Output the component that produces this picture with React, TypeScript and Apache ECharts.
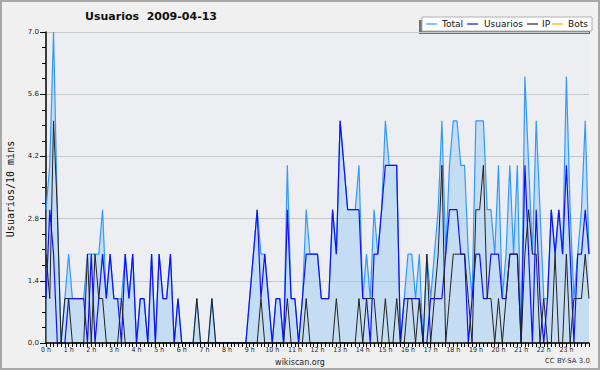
import React, { useEffect, useRef } from "react";
import * as echarts from "echarts";

// 10-minute bins over 24 h (0 h … 24 h), 145 points
const hourLabels: string[] = Array.from({ length: 25 }, (_, h) => `${h} h`);
const categories: string[] = Array.from({ length: 145 }, (_, i) => hourLabels[Math.floor(i / 6)]);

const total: number[] = [
  3, 4, 7, 3, 0, 1,
  2, 1, 1, 1, 1, 2,
  2, 2, 2, 3, 1, 2,
  1, 1, 1, 2, 1, 2,
  0, 1, 1, 0, 2, 0,
  2, 1, 1, 2, 0, 1,
  0, 0, 0, 0, 1, 0,
  0, 0, 1, 0, 0, 0,
  0, 0, 0, 0, 0, 0,
  1, 2, 3, 2, 2, 1,
  0, 1, 1, 0, 4, 1,
  1, 0, 1, 3, 2, 2,
  2, 1, 1, 1, 3, 2,
  5, 4, 3, 3, 3, 4,
  1, 2, 1, 3, 2, 3,
  5, 4, 4, 4, 0, 1,
  2, 2, 1, 2, 0, 2,
  1, 2, 3, 5, 2, 4,
  5, 5, 4, 4, 2, 1,
  5, 5, 5, 3, 3, 2,
  4, 1, 2, 4, 2, 4,
  0, 6, 4, 2, 5, 3,
  1, 1, 3, 2, 3, 2,
  6, 3, 1, 2, 3, 5,
  2,
];

const usuarios: number[] = [
  1, 3, 2, 0, 0, 0,
  1, 1, 1, 1, 1, 0,
  2, 0, 1, 2, 1, 2,
  1, 1, 0, 2, 1, 2,
  0, 1, 1, 0, 2, 0,
  2, 1, 1, 2, 0, 1,
  0, 0, 0, 0, 0, 0,
  0, 0, 0, 0, 0, 0,
  0, 0, 0, 0, 0, 0,
  1, 2, 3, 1, 2, 1,
  0, 1, 1, 0, 3, 1,
  1, 0, 1, 2, 2, 2,
  2, 1, 1, 1, 3, 2,
  5, 4, 3, 3, 3, 3,
  1, 1, 0, 2, 2, 3,
  4, 4, 4, 4, 0, 1,
  1, 1, 1, 1, 0, 0,
  1, 1, 1, 1, 2, 3,
  3, 3, 2, 2, 0, 1,
  2, 2, 1, 1, 2, 2,
  2, 1, 1, 2, 2, 2,
  0, 4, 2, 0, 3, 1,
  0, 1, 3, 2, 3, 2,
  4, 2, 0, 2, 2, 3,
  2,
];

const ip: number[] = [
  2, 1, 5, 3, 0, 1,
  1, 0, 0, 0, 0, 2,
  0, 2, 1, 1, 0, 0,
  0, 0, 1, 0, 0, 0,
  0, 0, 0, 0, 0, 0,
  0, 0, 0, 0, 0, 0,
  0, 0, 0, 0, 1, 0,
  0, 0, 1, 0, 0, 0,
  0, 0, 0, 0, 0, 0,
  0, 0, 0, 1, 0, 0,
  0, 0, 0, 0, 1, 0,
  0, 0, 0, 1, 0, 0,
  0, 0, 0, 0, 0, 1,
  0, 0, 0, 0, 0, 1,
  0, 1, 1, 1, 0, 0,
  1, 0, 0, 1, 0, 0,
  1, 1, 0, 1, 0, 2,
  0, 1, 2, 4, 0, 1,
  2, 2, 2, 2, 1, 0,
  3, 3, 4, 1, 1, 0,
  1, 0, 1, 2, 2, 2,
  0, 2, 3, 2, 2, 0,
  1, 0, 0, 2, 0, 0,
  2, 0, 1, 1, 1, 2,
  1,
];

const bots: number[] = [
  0, 0, 0, 0, 0, 0, 0, 0, 0, 0, 0, 0,
  0, 0, 0, 0, 0, 0, 0, 0, 0, 0, 0, 0,
  0, 0, 0, 0, 0, 0, 0, 0, 0, 0, 0, 0,
  0, 0, 0, 0, 0, 0, 0, 0, 0, 0, 0, 0,
  0, 0, 0, 0, 0, 0, 0, 0, 0, 0, 0, 0,
  0, 0, 0, 0, 0, 0, 0, 0, 0, 0, 0, 0,
  0, 0, 0, 0, 0, 0, 0, 0, 0, 0, 0, 0,
  0, 0, 0, 0, 0, 0, 0, 0, 0, 0, 0, 0,
  0, 0, 0, 0, 0, 0, 0, 0, 0, 0, 0, 0,
  0, 0, 0, 0, 0, 0, 0, 0, 0, 0, 0, 0,
  0, 0, 0, 0, 0, 0, 0, 0, 0, 0, 0, 0,
  0, 0, 0, 0, 0, 0, 0, 0, 0, 0, 0, 0,
  0,
];

const legendItems = [
  { name: "Total", color: "#3399ff", x: 426, tx: 442 },
  { name: "Usuarios", color: "#1010ff", x: 467, tx: 484 },
  { name: "IP", color: "#222222", x: 527, tx: 542 },
  { name: "Bots", color: "#ffa500", x: 552, tx: 568 },
];

const FONT = '"DejaVu Sans", sans-serif';
const FONT_COND = '"DejaVu Sans Condensed", "DejaVu Sans", sans-serif';

export default function App() {
  const ref = useRef<HTMLDivElement>(null);
  useEffect(() => {
    document.body.style.margin = "0";
    const chart = echarts.init(ref.current!, null, { renderer: "svg" });
    const legendChildren: any[] = [
      { type: "rect", shape: { x: 419, y: 20, width: 171, height: 14 }, style: { fill: "#707070" } },
      { type: "rect", shape: { x: 422, y: 17, width: 170, height: 14 }, style: { fill: "#ffffff", stroke: "#b0b0b0", lineWidth: 1 } },
    ];
    legendItems.forEach((it) => {
      legendChildren.push({
        type: "line",
        shape: { x1: it.x, y1: 24, x2: it.x + 11, y2: 24 },
        style: { stroke: it.color, lineWidth: 1.2 },
      });
      legendChildren.push({
        type: "text",
        x: it.tx,
        y: 24,
        style: { text: it.name, font: `9px ${FONT}`, fill: "#111", textAlign: "left", textVerticalAlign: "middle" },
      });
    });

    chart.setOption({
      animation: false,
      backgroundColor: "#f0f0f0",
      grid: { left: 46, right: 11, top: 32, bottom: 27, show: true, backgroundColor: "#eceef1", borderWidth: 0 },
      xAxis: {
        type: "category",
        data: categories,
        boundaryGap: false,
        z: 5,
        axisLine: { lineStyle: { color: "#000", width: 1.5 } },
        axisTick: { interval: 0, length: 4, lineStyle: { color: "#000" } },
        axisLabel: {
          interval: (i: number) => i % 6 === 0 && i < 144,
          margin: 3,
          fontSize: 7,
          fontFamily: FONT_COND,
          color: "#222",
        },
        splitLine: { show: false },
      },
      yAxis: {
        type: "value",
        min: 0,
        max: 7,
        interval: 1.4,
        axisLine: { show: true, lineStyle: { color: "#000", width: 1.5 } },
        axisTick: { show: true, length: 6, lineStyle: { color: "#000" } },
        minorTick: { show: true, splitNumber: 4, length: 4, lineStyle: { color: "#000" } },
        axisLabel: { formatter: (v: number) => v.toFixed(1), fontSize: 7, margin: 7, fontFamily: FONT, color: "#222" },
        splitLine: { lineStyle: { color: "#c8c8c8", width: 1 } },
      },
      series: [
        { name: "Bots", type: "line", data: bots, symbol: "none", z: 1, lineStyle: { color: "#ffa500", width: 1 } },
        {
          name: "Total",
          type: "line",
          data: total,
          symbol: "none",
          z: 2,
          lineStyle: { color: "#3399ff", width: 1.2 },
          areaStyle: { color: "rgba(141,198,246,0.42)", opacity: 1 },
        },
        { name: "Usuarios", type: "line", data: usuarios, symbol: "none", z: 3, lineStyle: { color: "#1010ff", width: 1.2 } },
        { name: "IP", type: "line", data: ip, symbol: "none", z: 4, lineStyle: { color: "#222222", width: 1 } },
      ],
      graphic: [
        { type: "rect", z: 100, shape: { x: 1, y: 1, width: 598, height: 368 }, style: { fill: "none", stroke: "#a8a8a8", lineWidth: 2 } },
        {
          type: "text",
          z: 100,
          x: 151,
          y: 16,
          style: { text: "Usuarios  2009-04-13", font: `bold 11px ${FONT}`, fill: "#111", textAlign: "center", textVerticalAlign: "middle" },
        },
        {
          type: "text",
          z: 100,
          x: 10,
          y: 189,
          rotation: Math.PI / 2,
          style: { text: "Usuarios/10 mins", font: '10px "DejaVu Sans Mono", monospace', fill: "#111", textAlign: "center", textVerticalAlign: "middle" },
        },
        {
          type: "text",
          z: 100,
          x: 300,
          y: 362,
          style: { text: "wikiscan.org", font: `8px ${FONT}`, fill: "#222", textAlign: "center", textVerticalAlign: "middle" },
        },
        {
          type: "text",
          z: 100,
          x: 590,
          y: 361,
          style: { text: "CC BY-SA 3.0", font: `7px ${FONT}`, fill: "#333", textAlign: "right", textVerticalAlign: "middle" },
        },
        { type: "group", z: 100, children: legendChildren },
      ],
    });
    return () => chart.dispose();
  }, []);
  return <div ref={ref} style={{ width: 600, height: 370 }} />;
}
